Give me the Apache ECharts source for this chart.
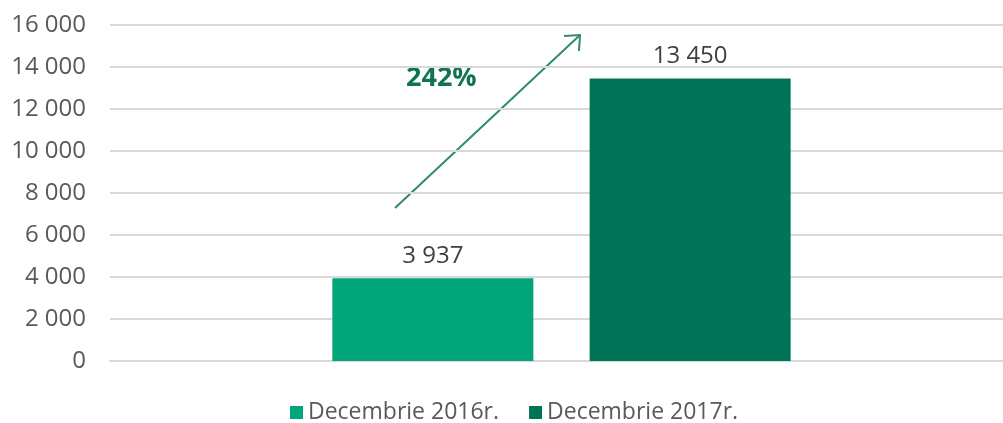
<!DOCTYPE html>
<html>
<head>
<meta charset="utf-8">
<script src="https://cdn.jsdelivr.net/npm/echarts@6/dist/echarts.min.js"></script>
<style>
  html, body { margin: 0; padding: 0; background: #fff; }
  #chart { width: 1003px; height: 423px; }
</style>
</head>
<body>
<div id="chart"></div>
<script>
const categories = ['']
const seriesNames = ['Decembrie 2016r.', 'Decembrie 2017r.']
const values2016 = [3937]
const values2017 = [13450]
const growthLabel = '242%'

const fmt = v => String(v).replace(/\B(?=(\d{3})+(?!\d))/g, ' ')

const chart = echarts.init(document.getElementById('chart'))

const labelStyle = {
  show: true,
  position: 'top',
  distance: 10,
  color: '#404040',
  fontFamily: 'Open Sans',
  fontSize: 24,
  formatter: p => fmt(p.value)
}

const option = {
  animation: false,
  grid: { left: 110, right: -10, top: 25, bottom: 62, outerBoundsMode: 'none', containLabel: false },
  legend: {
    left: 285,
    top: 396,
    itemWidth: 13,
    itemHeight: 13,
    itemGap: 30,
    icon: 'rect',
    textStyle: { color: '#595959', fontFamily: 'Open Sans', fontSize: 23 }
  },
  xAxis: {
    type: 'category',
    data: categories,
    axisLine: { show: true, lineStyle: { color: '#d9d9d9', width: 2 } },
    axisTick: { show: false },
    axisLabel: { show: false }
  },
  yAxis: {
    type: 'value',
    min: 0,
    max: 16000,
    interval: 2000,
    axisLine: { show: false },
    axisTick: { show: false },
    axisLabel: {
      color: '#595959',
      fontFamily: 'Open Sans',
      fontSize: 24,
      margin: 24,
      formatter: v => fmt(v)
    },
    splitLine: { lineStyle: { color: '#d9d9d9', width: 2 } }
  },
  series: [
    {
      name: seriesNames[0],
      type: 'bar',
      data: values2016,
      barWidth: 201,
      barGap: '28%',
      itemStyle: { color: '#00A57A' },
      label: labelStyle
    },
    {
      name: seriesNames[1],
      type: 'bar',
      data: values2017,
      barWidth: 201,
      itemStyle: { color: '#007456' },
      label: labelStyle
    }
  ],
  graphic: [
    {
      type: 'line',
      shape: { x1: 395, y1: 208, x2: 580, y2: 35 },
      style: { stroke: '#2E8B6B', lineWidth: 2 }
    },
    {
      type: 'polyline',
      shape: { points: [[564, 36], [580, 35], [579, 51]] },
      style: { stroke: '#2E8B6B', lineWidth: 2, fill: null }
    },
    {
      type: 'text',
      left: 406,
      top: 65,
      style: {
        text: growthLabel,
        fill: '#107453',
        font: 'bold 27px "Open Sans"'
      }
    }
  ]
}

chart.setOption(option)
</script>
</body>
</html>
